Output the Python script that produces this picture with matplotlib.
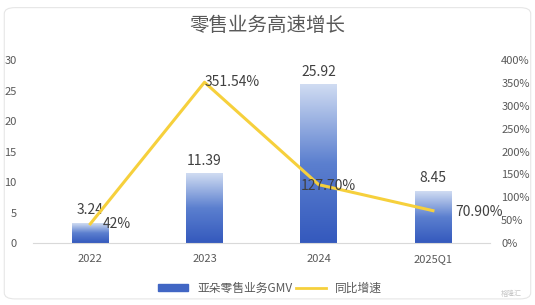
import matplotlib.pyplot as plt
import numpy as np
from matplotlib.colors import LinearSegmentedColormap
from matplotlib.patches import FancyBboxPatch

plt.rcParams['font.family'] = ['Noto Sans CJK SC', 'DejaVu Sans']

categories = ["2022", "2023", "2024", "2025Q1"]
gmv = [3.24, 11.39, 25.92, 8.45]
growth = [0.42, 3.5154, 1.277, 0.709]
growth_labels = ["42%", "351.54%", "127.70%", "70.90%"]

fig = plt.figure(figsize=(5.35, 3.05), dpi=100)
fig.patch.set_facecolor("white")

# card border
card = FancyBboxPatch((0.008, 0.02), 0.984, 0.955, boxstyle="round,pad=0,rounding_size=0.02",
                      transform=fig.transFigure, facecolor="white", edgecolor="#e6e6e6", lw=0.8,
                      zorder=-10)
fig.patches.append(card)

ax = fig.add_axes([0.062, 0.203, 0.854, 0.600])
ax.patch.set_alpha(0)
x = np.arange(len(categories))
width = 0.32

cmap = LinearSegmentedColormap.from_list("bar", ["#3459bd", "#5b7fcf", "#d0dcf2"])
grad = np.linspace(0, 1, 256).reshape(-1, 1)
bars = ax.bar(x, gmv, width, color="none", edgecolor="none", zorder=2)
for b in bars:
    bx, by = b.get_x(), b.get_y()
    ax.imshow(grad, cmap=cmap, aspect="auto", origin="lower",
              extent=[bx, bx + b.get_width(), by, by + b.get_height()], zorder=2)

ax.set_xlim(-0.5, 3.5)
ax.set_ylim(0, 30)
ax.set_yticks(range(0, 31, 5))
ax.set_xticks(x)
ax.set_xticklabels(categories)
for s in ["top", "right", "left"]:
    ax.spines[s].set_visible(False)
ax.spines["bottom"].set_color("#d9d9d9")
ax.tick_params(length=0, labelsize=8, colors="#595959")
ax.tick_params(axis="x", pad=8)
ax.tick_params(axis="y", pad=12)

for xi, v in zip(x, gmv):
    ax.text(xi, v + 1.0, f"{v:.2f}", ha="center", va="bottom", fontsize=10, color="#404040", zorder=4)

ax2 = ax.twinx()
ax2.plot(x, growth, color="#f6d03c", lw=2.2, zorder=3)
ax2.set_ylim(0, 4)
ax2.set_yticks(np.arange(0, 4.01, 0.5))
ax2.set_yticklabels([f"{int(t*100)}%" for t in np.arange(0, 4.01, 0.5)])
for s in ["top", "right", "left", "bottom"]:
    ax2.spines[s].set_visible(False)
ax2.tick_params(length=0, labelsize=8, colors="#595959", pad=8)

offsets = [(0.11, 0.0, "left"), (0.0, 0.0, "left"), (0.08, -0.02, "center"), (0.2, -0.03, "left")]
for xi, g, lab, (dx, dy, ha) in zip(x, growth, growth_labels, offsets):
    ax2.text(xi + dx, g + dy, lab, ha=ha, va="center", fontsize=10, color="#404040", zorder=5)

fig.text(0.5, 0.915, "零售业务高速增长", ha="center", va="center", fontsize=14, color="#595959")

# legend
handles = [plt.Rectangle((0, 0), 1, 1, color="#4166c4"),
           plt.Line2D([0], [0], color="#f6d03c", lw=2)]
fig.legend(handles, ["亚朵零售业务GMV", "同比增速"], loc="center", bbox_to_anchor=(0.505, 0.056),
           ncol=2, frameon=False, fontsize=8.5, handlelength=2.5, handleheight=0.5,
           columnspacing=0.3, labelcolor="#595959")

fig.text(0.975, 0.035, "格隆汇", ha="right", va="center", fontsize=5, color="#c8c8c8")

fig.savefig("out.png", dpi=100, facecolor="white")
